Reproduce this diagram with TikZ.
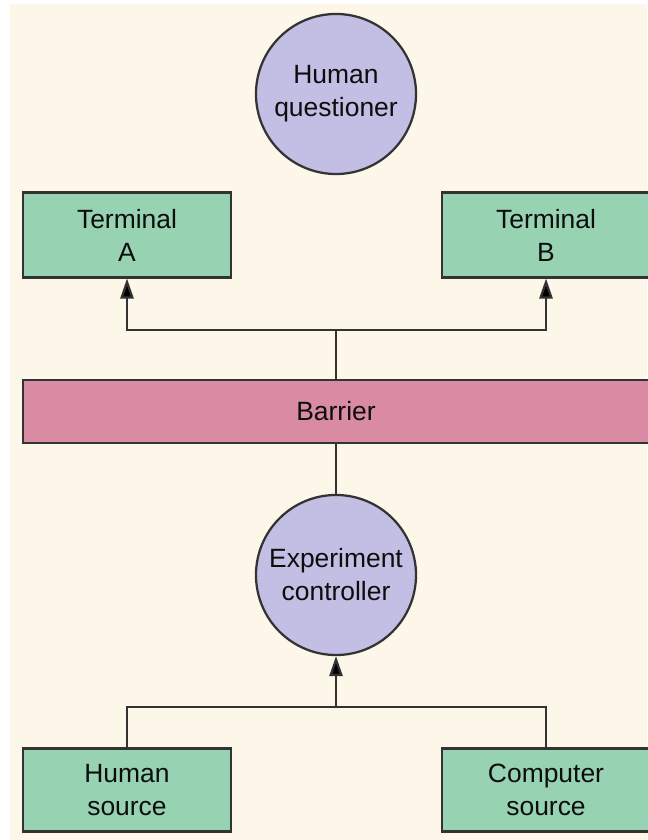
\documentclass[tikz,border=0pt]{standalone}
\usepackage{fontspec}
\setmainfont{Liberation Sans}
\usetikzlibrary{arrows.meta,positioning}
\definecolor{paper}{HTML}{FCF7E9}
\definecolor{lavender}{HTML}{C3BEE4}
\definecolor{termgreen}{HTML}{97D3B2}
\definecolor{barpink}{HTML}{D88BA3}
\definecolor{edge}{HTML}{333333}

\begin{document}
\begin{tikzpicture}[x=0.025cm,y=-0.025cm,
  every node/.style={font=\fontsize{18.8}{23.5}\selectfont,text=black!95,align=center,inner sep=0pt},
  agent/.style={circle,draw=edge,line width=1.6pt,fill=lavender,minimum size=4cm},
  unit/.style={rectangle,draw=edge,line width=1.6pt,fill=termgreen,minimum width=5.2cm,minimum height=2.12cm},
  wire/.style={edge,line width=1.6pt},
  arr/.style={wire,-{Triangle[length=0.5cm,width=0.33cm,fill=black]}}]
\useasboundingbox (0,0) rectangle (647,840);
\fill [white] (0,0) rectangle (647,840);
\fill [paper] (10,4) rectangle (647,840);
\node [agent] (hq) at (336,94) {Human\\questioner};
\node [unit] (ta) at (127,235) {Terminal\\A};
\node [unit] (tb) at (546,235) {Terminal\\B};
\node [rectangle,draw=edge,line width=1.6pt,fill=barpink,minimum width=15.65cm,minimum height=1.58cm] (barrier) at (336,411.5) {Barrier};
\node [agent] (ec) at (336,575) {Experiment\\controller};
\node [unit,minimum height=2.08cm] (hs) at (127,790) {Human\\source};
\node [unit,minimum height=2.08cm] (cs) at (546,790) {Computer\\source};
\coordinate (topfork) at (336,330);
\coordinate (botfork) at (336,707);
\draw [wire] (barrier.north) -- (topfork);
\draw [arr] (topfork) -| (ta.south);
\draw [arr] (topfork) -| (tb.south);
\draw [wire] (barrier.south) -- (ec.north);
\draw [wire] (hs.north) |- (botfork) -| (cs.north);
\draw [arr] (botfork) -- (ec.south);
\end{tikzpicture}
\end{document}
